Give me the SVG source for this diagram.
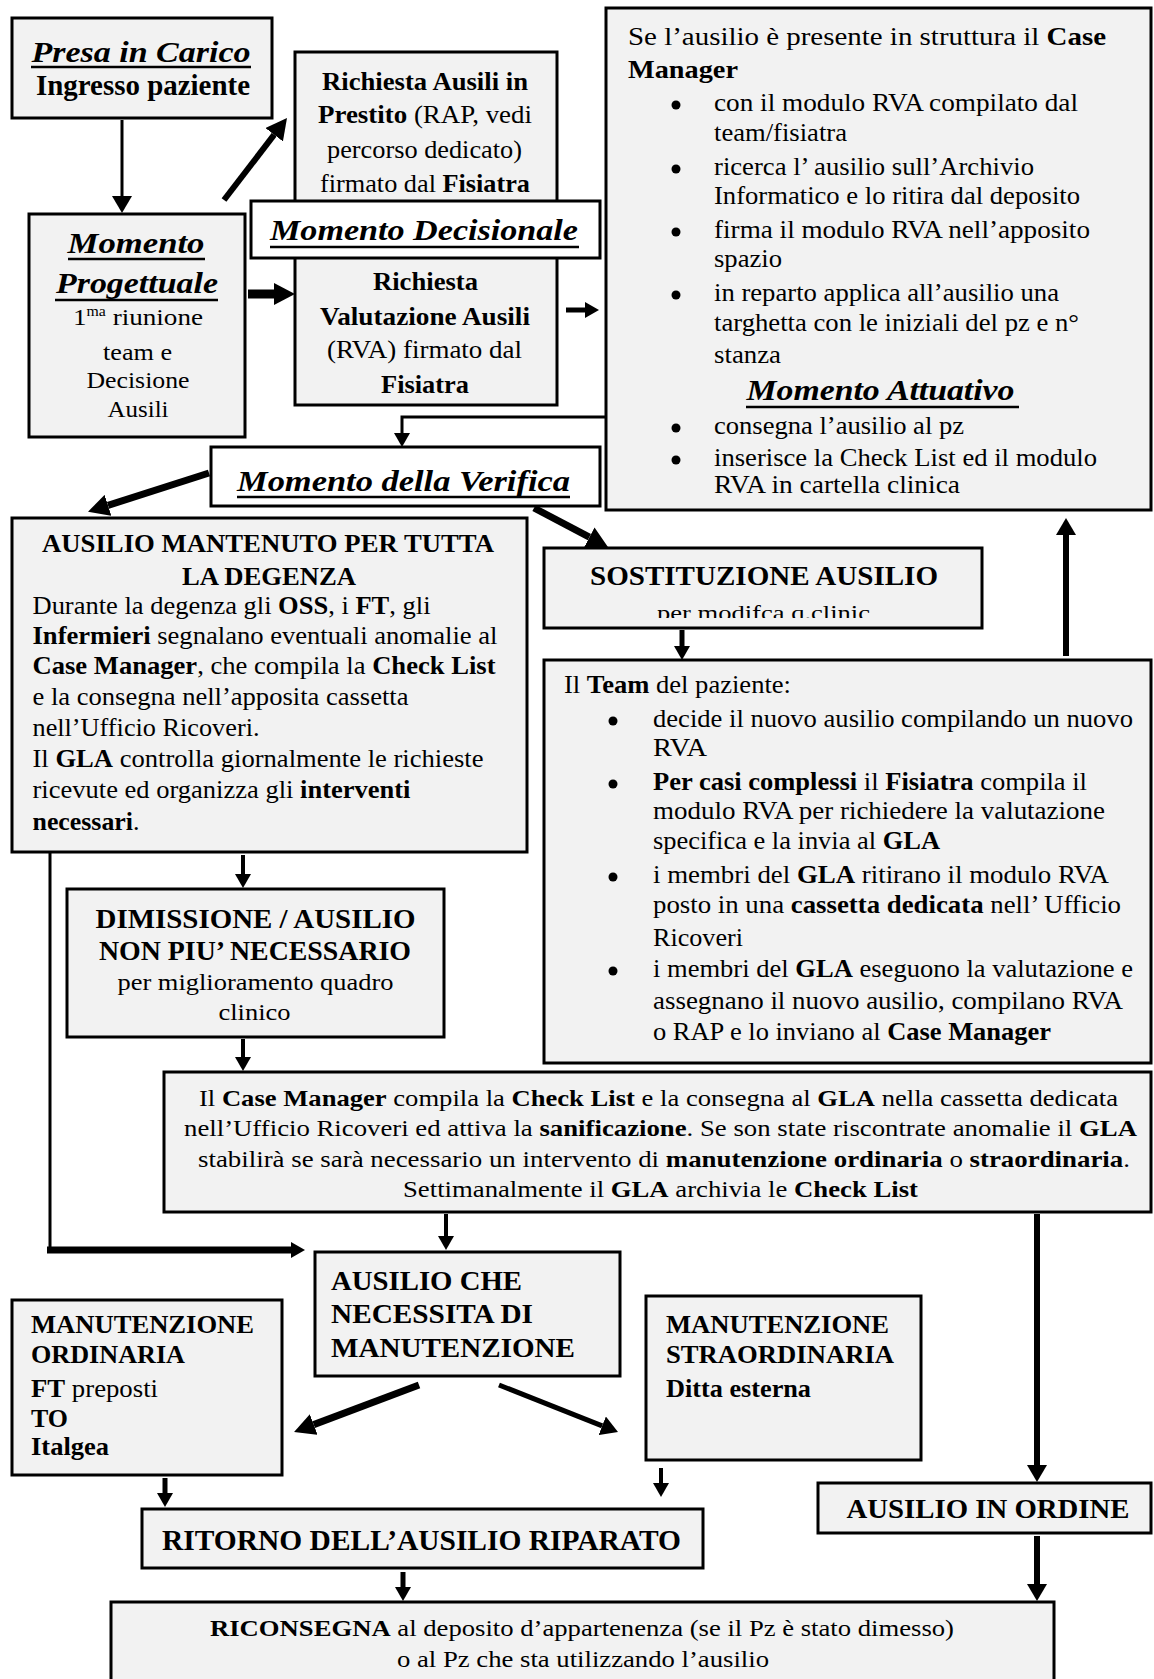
<svg xmlns="http://www.w3.org/2000/svg" width="1154" height="1679" viewBox="0 0 1154 1679">
<style>
.box{fill:#f2f2f2;stroke:#000;stroke-width:3}
.wbox{fill:#fff;stroke:#000;stroke-width:3}
text{font-family:"Liberation Serif","Times New Roman",serif;fill:#000}
.b{font-weight:bold}
.bi{font-weight:bold;font-style:italic}
.c{text-anchor:middle}
.dot{fill:#000}
.ul{stroke:#000;stroke-width:2.5}
.ln{fill:none;stroke:#000}
.f23{font-size:23px}
.f24{font-size:24px}
.f25{font-size:25px}
.f26{font-size:26px}
</style>
<defs>
<marker id="hS" markerUnits="userSpaceOnUse" markerWidth="14" markerHeight="16" viewBox="0 0 14 16" refX="0" refY="8" orient="auto"><path d="M0,0 L14,8 L0,16 z"/></marker>
<marker id="hM" markerUnits="userSpaceOnUse" markerWidth="17" markerHeight="20" viewBox="0 0 17 20" refX="0" refY="10" orient="auto"><path d="M0,0 L17,10 L0,20 z"/></marker>
<marker id="hL" markerUnits="userSpaceOnUse" markerWidth="21" markerHeight="22" viewBox="0 0 21 22" refX="0" refY="11" orient="auto"><path d="M0,0 L21,11 L0,22 z"/></marker>
<clipPath id="sclip"><rect x="546" y="550" width="434" height="68"/></clipPath>
</defs>

<g id="presa">
<rect class="box" x="12" y="18" width="260" height="100"/>
<text class="bi c" x="141" y="62" font-size="29" textLength="219" lengthAdjust="spacingAndGlyphs">Presa in Carico</text>
<line class="ul" x1="31" y1="67" x2="251" y2="67"/>
<text class="b c" x="143" y="95" font-size="30" textLength="214" lengthAdjust="spacingAndGlyphs">Ingresso paziente</text>
</g>

<g id="prestito">
<rect class="box" x="295" y="52" width="262" height="156"/>
<text class="b c f26" x="425" y="90" textLength="206" lengthAdjust="spacingAndGlyphs">Richiesta Ausili in</text>
<text class="c f26" x="425" y="123" textLength="214" lengthAdjust="spacingAndGlyphs"><tspan class="b">Prestito</tspan> (RAP, vedi</text>
<text class="c f26" x="424.5" y="158" textLength="195" lengthAdjust="spacingAndGlyphs">percorso dedicato)</text>
<text class="c f26" x="425" y="192" textLength="210" lengthAdjust="spacingAndGlyphs">firmato dal <tspan class="b">Fisiatra</tspan></text>
</g>

<g id="rva">
<rect class="box" x="295" y="250" width="262" height="155"/>
<text class="b c f26" x="425.5" y="290" textLength="105" lengthAdjust="spacingAndGlyphs">Richiesta</text>
<text class="b c f26" x="425" y="325" textLength="210" lengthAdjust="spacingAndGlyphs">Valutazione Ausili</text>
<text class="c f26" x="424.5" y="358" textLength="195" lengthAdjust="spacingAndGlyphs">(RVA) firmato dal</text>
<text class="b c f26" x="425" y="393" textLength="88" lengthAdjust="spacingAndGlyphs">Fisiatra</text>
</g>

<g id="decisionale">
<rect class="wbox" x="251" y="201" width="349" height="57"/>
<text class="bi c" x="424" y="240" font-size="30" textLength="308" lengthAdjust="spacingAndGlyphs">Momento Decisionale</text>
<line class="ul" x1="270" y1="247" x2="579" y2="247"/>
</g>

<g id="progettuale">
<rect class="box" x="29" y="214" width="216" height="223"/>
<text class="bi c" x="136" y="253" font-size="30" textLength="137" lengthAdjust="spacingAndGlyphs">Momento</text>
<line class="ul" x1="68" y1="259" x2="205" y2="259"/>
<text class="bi c" x="137" y="293" font-size="30" textLength="162" lengthAdjust="spacingAndGlyphs">Progettuale</text>
<line class="ul" x1="55" y1="300" x2="218" y2="300"/>
<text class="c f24" x="138" y="325" textLength="130" lengthAdjust="spacingAndGlyphs">1<tspan font-size="14" dy="-9">ma</tspan><tspan dy="9"> riunione</tspan></text>
<text class="c f24" x="137.5" y="360" textLength="69" lengthAdjust="spacingAndGlyphs">team e</text>
<text class="c f24" x="138" y="388" textLength="103" lengthAdjust="spacingAndGlyphs">Decisione</text>
<text class="c f24" x="138" y="417" textLength="61" lengthAdjust="spacingAndGlyphs">Ausili</text>
</g>

<g id="case-manager-attuativo">
<rect class="box" x="606" y="8" width="545" height="502"/>
<text class="f25" x="628" y="45" textLength="478" lengthAdjust="spacingAndGlyphs">Se l’ausilio è presente in struttura il <tspan class="b">Case</tspan></text>
<text class="b f25" x="628" y="78" textLength="110" lengthAdjust="spacingAndGlyphs">Manager</text>
<circle class="dot" cx="676" cy="105" r="4.5"/>
<text class="f25" x="714" y="111" textLength="364" lengthAdjust="spacingAndGlyphs">con il modulo RVA compilato dal</text>
<text class="f25" x="714" y="141" textLength="133" lengthAdjust="spacingAndGlyphs">team/fisiatra</text>
<circle class="dot" cx="676" cy="169" r="4.5"/>
<text class="f25" x="714" y="175" textLength="320" lengthAdjust="spacingAndGlyphs">ricerca l’ ausilio sull’Archivio</text>
<text class="f25" x="714" y="204" textLength="366" lengthAdjust="spacingAndGlyphs">Informatico e lo ritira dal deposito</text>
<circle class="dot" cx="676" cy="232" r="4.5"/>
<text class="f25" x="714" y="238" textLength="376" lengthAdjust="spacingAndGlyphs">firma il modulo RVA nell’apposito</text>
<text class="f25" x="714" y="267" textLength="68" lengthAdjust="spacingAndGlyphs">spazio</text>
<circle class="dot" cx="676" cy="295" r="4.5"/>
<text class="f25" x="714" y="301" textLength="345" lengthAdjust="spacingAndGlyphs">in reparto applica all’ausilio una</text>
<text class="f25" x="714" y="331" textLength="365" lengthAdjust="spacingAndGlyphs">targhetta con le iniziali del pz e n°</text>
<text class="f25" x="714" y="363" textLength="67" lengthAdjust="spacingAndGlyphs">stanza</text>
<text class="bi c" x="880.5" y="400" font-size="30" textLength="268" lengthAdjust="spacingAndGlyphs">Momento Attuativo</text>
<line class="ul" x1="746" y1="407" x2="1019" y2="407"/>
<circle class="dot" cx="676" cy="428" r="4.5"/>
<text class="f25" x="714" y="434" textLength="250" lengthAdjust="spacingAndGlyphs">consegna l’ausilio al pz</text>
<circle class="dot" cx="676" cy="460" r="4.5"/>
<text class="f25" x="714" y="466" textLength="383" lengthAdjust="spacingAndGlyphs">inserisce la Check List ed il modulo</text>
<text class="f25" x="714" y="493" textLength="246" lengthAdjust="spacingAndGlyphs">RVA in cartella clinica</text>
</g>

<g id="verifica">
<rect class="wbox" x="211" y="447" width="389" height="59"/>
<text class="bi c" x="403.5" y="491" font-size="30" textLength="333" lengthAdjust="spacingAndGlyphs">Momento della Verifica</text>
<line class="ul" x1="237" y1="497" x2="570" y2="497"/>
</g>

<g id="mantenuto">
<rect class="box" x="12" y="518" width="515" height="334"/>
<text class="b c f25" x="268" y="552" textLength="452" lengthAdjust="spacingAndGlyphs">AUSILIO MANTENUTO PER TUTTA</text>
<text class="b c f25" x="269" y="585" textLength="174" lengthAdjust="spacingAndGlyphs">LA DEGENZA</text>
<text class="f25" x="32.5" y="614" textLength="398" lengthAdjust="spacingAndGlyphs">Durante la degenza gli <tspan class="b">OSS</tspan>, i <tspan class="b">FT</tspan>, gli</text>
<text class="f25" x="32.5" y="644" textLength="465" lengthAdjust="spacingAndGlyphs"><tspan class="b">Infermieri</tspan> segnalano eventuali anomalie al</text>
<text class="f25" x="32.5" y="674" textLength="463" lengthAdjust="spacingAndGlyphs"><tspan class="b">Case Manager</tspan>, che compila la <tspan class="b">Check List</tspan></text>
<text class="f25" x="32.5" y="705" textLength="376" lengthAdjust="spacingAndGlyphs">e la consegna nell’apposita cassetta</text>
<text class="f25" x="32.5" y="736" textLength="227" lengthAdjust="spacingAndGlyphs">nell’Ufficio Ricoveri.</text>
<text class="f25" x="32.5" y="767" textLength="451" lengthAdjust="spacingAndGlyphs">Il <tspan class="b">GLA</tspan> controlla giornalmente le richieste</text>
<text class="f25" x="32.5" y="798" textLength="378" lengthAdjust="spacingAndGlyphs">ricevute ed organizza gli <tspan class="b">interventi</tspan></text>
<text class="f25" x="32.5" y="830" textLength="107" lengthAdjust="spacingAndGlyphs"><tspan class="b">necessari</tspan>.</text>
</g>

<g id="sostituzione">
<rect class="box" x="544" y="548" width="438" height="80"/>
<text class="b c" x="764" y="585" font-size="27" textLength="348" lengthAdjust="spacingAndGlyphs">SOSTITUZIONE AUSILIO</text>
<text class="c" x="763.5" y="620" font-size="22" textLength="213" lengthAdjust="spacingAndGlyphs" clip-path="url(#sclip)">per modifca q.clinic</text>
</g>

<g id="team">
<rect class="box" x="544" y="660" width="607" height="403"/>
<text class="f25" x="564" y="693" textLength="227" lengthAdjust="spacingAndGlyphs">Il <tspan class="b">Team</tspan> del paziente:</text>
<circle class="dot" cx="613" cy="721" r="4.5"/>
<text class="f25" x="653" y="727" textLength="480" lengthAdjust="spacingAndGlyphs">decide il nuovo ausilio compilando un nuovo</text>
<text class="f25" x="653" y="756" textLength="54" lengthAdjust="spacingAndGlyphs">RVA</text>
<circle class="dot" cx="613" cy="784" r="4.5"/>
<text class="f25" x="653" y="790" textLength="434" lengthAdjust="spacingAndGlyphs"><tspan class="b">Per casi complessi</tspan> il <tspan class="b">Fisiatra</tspan> compila il</text>
<text class="f25" x="653" y="819" textLength="452" lengthAdjust="spacingAndGlyphs">modulo RVA per richiedere la valutazione</text>
<text class="f25" x="653" y="849" textLength="287" lengthAdjust="spacingAndGlyphs">specifica e la invia al <tspan class="b">GLA</tspan></text>
<circle class="dot" cx="613" cy="877" r="4.5"/>
<text class="f25" x="653" y="883" textLength="456" lengthAdjust="spacingAndGlyphs">i membri del <tspan class="b">GLA</tspan> ritirano il modulo RVA</text>
<text class="f25" x="653" y="913" textLength="468" lengthAdjust="spacingAndGlyphs">posto in una <tspan class="b">cassetta dedicata</tspan> nell’ Ufficio</text>
<text class="f25" x="653" y="946" textLength="90" lengthAdjust="spacingAndGlyphs">Ricoveri</text>
<circle class="dot" cx="613" cy="971" r="4.5"/>
<text class="f25" x="653" y="977" textLength="480" lengthAdjust="spacingAndGlyphs">i membri del <tspan class="b">GLA</tspan> eseguono la valutazione e</text>
<text class="f25" x="653" y="1009" textLength="470" lengthAdjust="spacingAndGlyphs">assegnano il nuovo ausilio, compilano RVA</text>
<text class="f25" x="653" y="1040" textLength="398" lengthAdjust="spacingAndGlyphs">o RAP e lo inviano al <tspan class="b">Case Manager</tspan></text>
</g>

<g id="dimissione">
<rect class="box" x="67" y="889" width="377" height="148"/>
<text class="b c" x="255.5" y="928" font-size="27" textLength="320" lengthAdjust="spacingAndGlyphs">DIMISSIONE / AUSILIO</text>
<text class="b c" x="255" y="960" font-size="27" textLength="312" lengthAdjust="spacingAndGlyphs">NON PIU’ NECESSARIO</text>
<text class="c f23" x="255.5" y="990" textLength="276" lengthAdjust="spacingAndGlyphs">per miglioramento quadro</text>
<text class="c f23" x="254.5" y="1020" textLength="72" lengthAdjust="spacingAndGlyphs">clinico</text>
</g>

<g id="check-list">
<rect class="box" x="164" y="1072" width="987" height="140"/>
<text class="c f23" x="658.5" y="1106" textLength="919" lengthAdjust="spacingAndGlyphs">Il <tspan class="b">Case Manager</tspan> compila la <tspan class="b">Check List</tspan> e la consegna al <tspan class="b">GLA</tspan> nella cassetta dedicata</text>
<text class="c f23" x="660.5" y="1136" textLength="953" lengthAdjust="spacingAndGlyphs">nell’Ufficio Ricoveri ed attiva la <tspan class="b">sanificazione</tspan>. Se son state riscontrate anomalie il <tspan class="b">GLA</tspan></text>
<text class="c f23" x="664" y="1167" textLength="932" lengthAdjust="spacingAndGlyphs">stabilirà se sarà necessario un intervento di <tspan class="b">manutenzione ordinaria</tspan> o <tspan class="b">straordinaria</tspan>.</text>
<text class="c f23" x="660.5" y="1197" textLength="515" lengthAdjust="spacingAndGlyphs">Settimanalmente il <tspan class="b">GLA</tspan> archivia le <tspan class="b">Check List</tspan></text>
</g>

<g id="ausilio-manutenzione">
<rect class="box" x="315" y="1252" width="305" height="124"/>
<text class="b" x="331" y="1290" font-size="27" textLength="191" lengthAdjust="spacingAndGlyphs">AUSILIO CHE</text>
<text class="b" x="331" y="1323" font-size="27" textLength="202" lengthAdjust="spacingAndGlyphs">NECESSITA DI</text>
<text class="b" x="331" y="1357" font-size="27" textLength="244" lengthAdjust="spacingAndGlyphs">MANUTENZIONE</text>
</g>

<g id="manutenzione-ordinaria">
<rect class="box" x="12" y="1300" width="270" height="175"/>
<text class="b f25" x="31" y="1333" textLength="223" lengthAdjust="spacingAndGlyphs">MANUTENZIONE</text>
<text class="b f25" x="31" y="1363" textLength="154" lengthAdjust="spacingAndGlyphs">ORDINARIA</text>
<text class="f25" x="31" y="1397" textLength="127" lengthAdjust="spacingAndGlyphs"><tspan class="b">FT</tspan> preposti</text>
<text class="b f25" x="31" y="1427" textLength="37" lengthAdjust="spacingAndGlyphs">TO</text>
<text class="b f25" x="31" y="1455" textLength="78" lengthAdjust="spacingAndGlyphs">Italgea</text>
</g>

<g id="manutenzione-straordinaria">
<rect class="box" x="646" y="1296" width="275" height="164"/>
<text class="b f25" x="666" y="1333" textLength="223" lengthAdjust="spacingAndGlyphs">MANUTENZIONE</text>
<text class="b f25" x="666" y="1363" textLength="228" lengthAdjust="spacingAndGlyphs">STRAORDINARIA</text>
<text class="b f25" x="666" y="1397" textLength="145" lengthAdjust="spacingAndGlyphs">Ditta esterna</text>
</g>

<g id="ritorno">
<rect class="box" x="142" y="1509" width="561" height="59"/>
<text class="b c" x="421.5" y="1550" font-size="29" textLength="519" lengthAdjust="spacingAndGlyphs">RITORNO DELL’AUSILIO RIPARATO</text>
</g>

<g id="in-ordine">
<rect class="box" x="818" y="1483" width="333" height="50"/>
<text class="b c" x="988" y="1518" font-size="27" textLength="283" lengthAdjust="spacingAndGlyphs">AUSILIO IN ORDINE</text>
</g>

<g id="riconsegna">
<rect class="box" x="111" y="1602" width="943" height="90"/>
<text class="c f24" x="582" y="1636" textLength="744" lengthAdjust="spacingAndGlyphs"><tspan class="b">RICONSEGNA</tspan> al deposito d’appartenenza (se il Pz è stato dimesso)</text>
<text class="c f24" x="583" y="1667" textLength="372" lengthAdjust="spacingAndGlyphs">o al Pz che sta utilizzando l’ausilio</text>
</g>

<g id="connectors">
<line class="ln" stroke-width="3" x1="122" y1="120" x2="122" y2="196" marker-end="url(#hM)"/>
<line class="ln" stroke-width="6" x1="224" y1="200" x2="274.2" y2="134.7" marker-end="url(#hL)"/>
<line class="ln" stroke-width="9" x1="248" y1="294" x2="274" y2="294" marker-end="url(#hL)"/>
<line class="ln" stroke-width="5" x1="566" y1="310" x2="585" y2="310" marker-end="url(#hS)"/>
<path class="ln" stroke-width="3" d="M606,417 H402 V433" marker-end="url(#hS)"/>
<line class="ln" stroke-width="7" x1="209" y1="473" x2="108" y2="505.3" marker-end="url(#hL)"/>
<line class="ln" stroke-width="7" x1="534" y1="508" x2="589.4" y2="537.2" marker-end="url(#hL)"/>
<line class="ln" stroke-width="5" x1="682" y1="630" x2="682" y2="646" marker-end="url(#hS)"/>
<line class="ln" stroke-width="6" x1="1066" y1="656" x2="1066" y2="535" marker-end="url(#hM)"/>
<line class="ln" stroke-width="4" x1="243" y1="855" x2="243" y2="874" marker-end="url(#hS)"/>
<line class="ln" stroke-width="3" x1="50" y1="852" x2="50" y2="1253"/>
<line class="ln" stroke-width="7" x1="47" y1="1250" x2="291" y2="1250" marker-end="url(#hS)"/>
<line class="ln" stroke-width="4" x1="243" y1="1039" x2="243" y2="1057" marker-end="url(#hS)"/>
<line class="ln" stroke-width="4" x1="446" y1="1214" x2="446" y2="1236" marker-end="url(#hS)"/>
<line class="ln" stroke-width="6" x1="1037" y1="1214" x2="1037" y2="1465" marker-end="url(#hM)"/>
<line class="ln" stroke-width="7" x1="419" y1="1385" x2="313.7" y2="1424.6" marker-end="url(#hL)"/>
<line class="ln" stroke-width="5" x1="499" y1="1385" x2="602.2" y2="1425.8" marker-end="url(#hM)"/>
<line class="ln" stroke-width="5" x1="165" y1="1478" x2="165" y2="1493" marker-end="url(#hS)"/>
<line class="ln" stroke-width="4" x1="661" y1="1468" x2="661" y2="1483" marker-end="url(#hS)"/>
<line class="ln" stroke-width="5" x1="403" y1="1572" x2="403" y2="1587" marker-end="url(#hS)"/>
<line class="ln" stroke-width="6" x1="1037" y1="1536" x2="1037" y2="1584" marker-end="url(#hM)"/>
</g>
</svg>
